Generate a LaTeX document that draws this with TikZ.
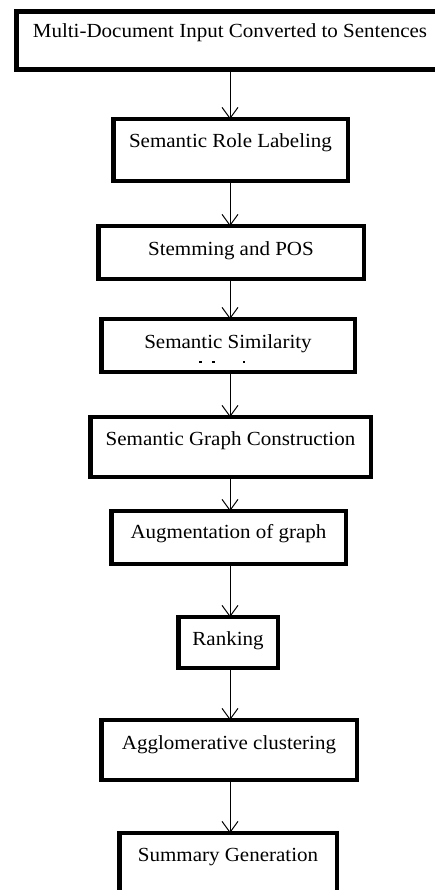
\documentclass[tikz,border=0pt]{standalone}
\usepackage{fontspec}
\setmainfont{Liberation Serif}[FakeStretch=1.05]
\usetikzlibrary{arrows.meta}
\begin{document}
\begin{tikzpicture}[x=1pt,y=-1pt,
  stepbox/.style={draw, line width=4.5pt, inner xsep=0pt, inner ysep=0pt, outer sep=0pt,
    anchor=base, font=\fontsize{20}{23}\selectfont},
  flow/.style={line width=1pt, -{Straight Barb[length=11pt,width=16pt,line width=1pt]}},
  remnant/.style={line width=1.3pt}]
\useasboundingbox (0,0) rectangle (435,890);
\clip (0,0) rectangle (435,890);
\coordinate (ax) at (230,0);
\node[stepbox, minimum width=427.5pt, text height=26.3pt, text depth=31.3pt] (b1) at (230,38) {Multi-Document Input Converted to Sentences};
\node[stepbox, minimum width=234.5pt, text height=28.8pt, text depth=32.8pt] (b2) at (230.5,148) {Semantic Role Labeling};
\node[stepbox, minimum width=265.5pt, text height=29.8pt, text depth=22.8pt] (b3) at (231,256) {Stemming and POS};
\node[stepbox, minimum width=253.5pt, text height=28.8pt, text depth=23.8pt] (b4) at (228,348) {Semantic Similarity};
\node[stepbox, minimum width=280.5pt, text height=27.8pt, text depth=31.8pt] (b5) at (230.5,445) {Semantic Graph Construction};
\node[stepbox, minimum width=234.5pt, text height=26.8pt, text depth=25.8pt] (b6) at (228.5,538) {Augmentation of graph};
\node[stepbox, minimum width=99.5pt, text height=27.8pt, text depth=22.8pt] (b7) at (228,645) {Ranking};
\node[stepbox, minimum width=255.5pt, text height=28.8pt, text depth=30.8pt] (b8) at (229,749) {Agglomerative clustering};
\node[stepbox, minimum width=217.5pt, text height=27.8pt, text depth=56.8pt] (b9) at (228,861) {Summary Generation};
\draw[remnant] (199,362) -- (202,362) (212,362) -- (215,362) (243,362) -- (244.5,362);
\draw[flow] (b1.south -| ax) -- (b2.north -| ax);
\draw[flow] (b2.south -| ax) -- (b3.north -| ax);
\draw[flow] (b3.south -| ax) -- (b4.north -| ax);
\draw[flow] (b4.south -| ax) -- (b5.north -| ax);
\draw[flow] (b5.south -| ax) -- (b6.north -| ax);
\draw[flow] (b6.south -| ax) -- (b7.north -| ax);
\draw[flow] (b7.south -| ax) -- (b8.north -| ax);
\draw[flow] (b8.south -| ax) -- (b9.north -| ax);
\end{tikzpicture}
\end{document}
